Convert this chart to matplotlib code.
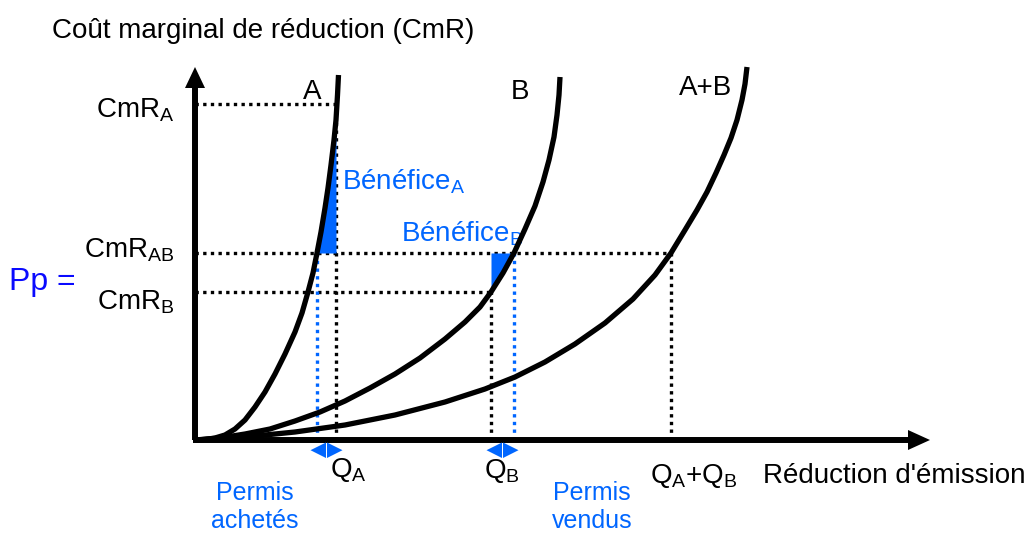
import numpy as np
import matplotlib
matplotlib.use("Agg")
import matplotlib.pyplot as plt

plt.rcParams['font.family'] = ['Liberation Sans', 'DejaVu Sans']
plt.rcParams['mathtext.fontset'] = 'custom'
plt.rcParams['mathtext.rm'] = 'Liberation Sans'
plt.rcParams['mathtext.it'] = 'Liberation Sans'
plt.rcParams['mathtext.default'] = 'rm'

# ---- data (schematic units; origin at the axes corner) ----
curve_A_x = [0, 10, 20, 30, 40, 50, 60, 70, 80, 90, 100, 107, 113, 118, 122,
             126, 130, 133, 136, 139, 141, 142.5, 143.5]
curve_A_y = [0, 0.5, 2, 5, 11, 20, 33, 48, 66, 86, 108, 127, 148, 167, 187,
             208, 232, 252, 275, 300, 320, 345, 365]
curve_B_x = [0, 25, 50, 75, 100, 125, 150, 175, 200, 225, 250, 270, 285, 296,
             308, 319, 330, 340, 348, 354, 359, 362, 364, 365]
curve_B_y = [0, 2, 6, 11, 19, 28, 39, 52, 66, 82, 101, 118, 133, 148,
             167, 187, 211, 234, 258, 280, 303, 325, 345, 363]
curve_AB_x = [0, 50, 100, 150, 200, 250, 290, 320, 350, 380, 410, 438, 460,
              476, 490, 502, 512, 521, 529, 536, 542, 547, 550, 552]
curve_AB_y = [0, 3, 8, 15, 25, 38, 51, 63, 78, 96, 117, 141, 165,
              187, 210, 230, 248, 267, 285, 302, 320, 340, 356, 373]

CmR_A = 336
CmR_AB = 187
CmR_B = 148
Q_A = 141
Q_B = 296
Q_AB = 476
qA_permit = 122   # quantity reduced by A at price Pp
qB_permit = 319   # quantity reduced by B at price Pp

curve_labels = ["A", "B", "A+B"]

BLUE = '#0066FF'
PBLUE = '#0A0AFF'

fig = plt.figure(figsize=(10.31, 5.33), dpi=100)
ax = fig.add_axes([0, 0, 1, 1])
ax.set_xlim(-195, 1031 - 195)
ax.set_ylim(440 - 533, 440)
ax.axis('off')

dot = dict(lw=2.4, dashes=(1.0, 1.3), solid_capstyle='butt', dash_capstyle='butt')

# dotted guides (black)
xA_at_CmRA = np.interp(CmR_A, curve_A_y, curve_A_x)
yA_at_QA = np.interp(Q_A, curve_A_x, curve_A_y)
ax.plot([0, xA_at_CmRA], [CmR_A, CmR_A], color='black', **dot)
ax.plot([0, Q_AB], [CmR_AB, CmR_AB], color='black', **dot)
ax.plot([0, Q_B], [CmR_B, CmR_B], color='black', **dot)
ax.plot([Q_A, Q_A], [0, yA_at_QA], color='black', **dot)
ax.plot([Q_B, Q_B], [0, CmR_B], color='black', **dot)
ax.plot([Q_AB, Q_AB], [0, CmR_AB], color='black', **dot)
# dotted guides (blue)
ax.plot([qA_permit, qA_permit], [0, CmR_AB], color=BLUE, **dot)
ax.plot([qB_permit, qB_permit], [0, CmR_AB], color=BLUE, **dot)

# benefit areas
ya = np.array(curve_A_y)
xa = np.array(curve_A_x)
m = (ya >= CmR_AB) & (ya <= yA_at_QA)
ya_f = np.concatenate([ya[m], [yA_at_QA]])
xa_f = np.concatenate([xa[m], [Q_A]])
ax.fill_betweenx(ya_f, xa_f, Q_A, color=BLUE, lw=0, zorder=3)
yb = np.array(curve_B_y)
xb = np.array(curve_B_x)
mb = (yb >= CmR_B) & (yb <= CmR_AB)
ax.fill_betweenx(yb[mb], Q_B, xb[mb], color=BLUE, lw=0, zorder=3)

# curves
for cx, cy in [(curve_A_x, curve_A_y), (curve_B_x, curve_B_y), (curve_AB_x, curve_AB_y)]:
    ax.plot(cx, cy, color='black', lw=3.8, solid_capstyle='butt', solid_joinstyle='round', zorder=4)

# axes with arrows
ax.plot([0, 0], [0, 355], color='black', lw=4.3, solid_capstyle='butt', zorder=5)
ax.fill([-10, 10, 0], [352, 352, 373], color='black', lw=0, zorder=5)
ax.plot([-2, 716], [0, 0], color='black', lw=4.3, solid_capstyle='butt', zorder=5)
ax.fill([713, 713, 735], [-10, 10, 0], color='black', lw=0, zorder=5)

# blue double arrows (permits bought / sold)
for lo, hi in [(qA_permit, Q_A), (Q_B, qB_permit)]:
    mid = (lo + hi) / 2
    ax.fill([mid - 0.5, mid - 0.5, mid - 16], [-2.5, -18, -10.2], color=BLUE, lw=0, zorder=5)
    ax.fill([mid + 0.5, mid + 0.5, mid + 16], [-2.5, -18, -10.2], color=BLUE, lw=0, zorder=5)

FS = 20
# texts
ax.text(-143, 409, "Coût marginal de réduction (CmR)", fontsize=FS, ha='left', va='center')
ax.text(117, 348, curve_labels[0], fontsize=FS, ha='center', va='center')
ax.text(325, 348, curve_labels[1], fontsize=FS, ha='center', va='center')
ax.text(511, 352, curve_labels[2], fontsize=FS, ha='center', va='center')

ax.text(-21, 322, r"CmR$_{\mathrm{A}}$", fontsize=FS, ha='right', va='baseline')
ax.text(-21, 182, r"CmR$_{\mathrm{AB}}$", fontsize=FS, ha='right', va='baseline')
ax.text(-21, 130, r"CmR$_{\mathrm{B}}$", fontsize=FS, ha='right', va='baseline')
ax.text(-186, 150, "Pp =", fontsize=23, color=PBLUE, ha='left', va='baseline')

ax.text(147, 250, r"Bénéfice$_{\mathrm{A}}$", fontsize=FS, color=BLUE, ha='left', va='baseline')
ax.text(206, 198, r"Bénéfice$_{\mathrm{B}}$", fontsize=FS, color=BLUE, ha='left', va='baseline')

ax.text(135, -37, r"Q$_{\mathrm{A}}$", fontsize=FS, ha='left', va='baseline')
ax.text(289, -38, r"Q$_{\mathrm{B}}$", fontsize=FS, ha='left', va='baseline')
ax.text(455, -43, r"Q$_{\mathrm{A}}$+Q$_{\mathrm{B}}$", fontsize=FS, ha='left', va='baseline')
ax.text(568, -43, "Réduction d'émission", fontsize=FS, ha='left', va='baseline')

ax.text(60, -60, "Permis", fontsize=18, color=BLUE, ha='center', va='baseline')
ax.text(60, -88, "achetés", fontsize=18, color=BLUE, ha='center', va='baseline')
ax.text(397, -60, "Permis", fontsize=18, color=BLUE, ha='center', va='baseline')
ax.text(397, -88, "vendus", fontsize=18, color=BLUE, ha='center', va='baseline')

fig.savefig("out.png", dpi=100)
